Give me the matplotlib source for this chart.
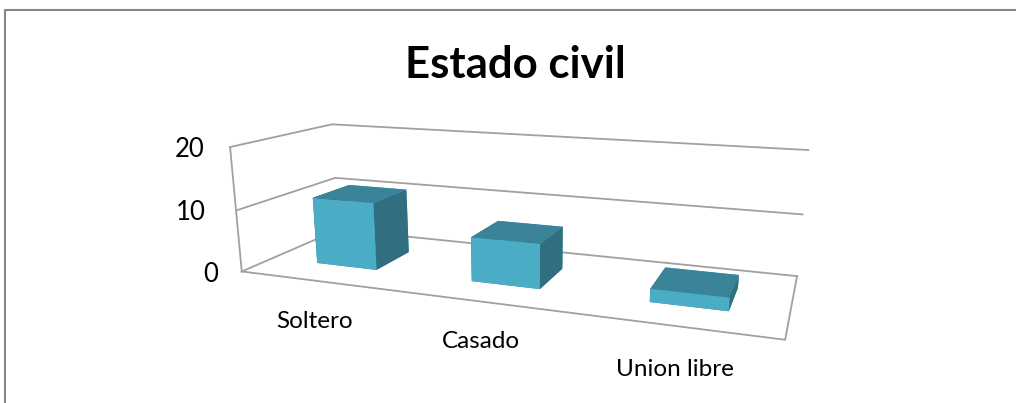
import numpy as np
import matplotlib
matplotlib.use("Agg")
import matplotlib.pyplot as plt

# Data
categories = ["Soltero", "Casado", "Union libre"]
values = [11, 7, 2]
z_ticks = [0, 10, 20]

W, H = 1016, 403
plt.rcParams['font.family'] = ['Lato', 'DejaVu Sans']

# Excel style 3D box: x 0..3 categories, y 0..1 depth, z 0..20
# pixel positions of the box corners, used to calibrate the camera
calib = [
    (0, 0, 0, 242, 271.5), (3, 0, 0, 785, 340), (3, 1, 0, 797, 275.7), (0, 1, 0, 338, 230),
    (0, 0, 10, 236, 210), (0, 0, 20, 230, 147.3), (0, 1, 10, 335.7, 177.7), (0, 1, 20, 331.7, 124.3),
    (3, 1, 10, 802.7, 214.7), (3, 1, 20, 808.3, 150),
]

fig = plt.figure(figsize=(W / 100, H / 100), dpi=100)
ax = fig.add_axes([0, 0, 1, 1], projection='3d')
ax.set_axis_off()
ax.set_proj_type('ortho')  # no depth clipping of lines, the matrix comes from get_proj below
ax.set_xlim(0, 3)
ax.set_ylim(0, 1)
ax.set_zlim(0, 20)
ax.apply_aspect = lambda position=None: None  # keep the axes over the whole figure


def get_proj():
    # fit a 3x4 camera matrix (DLT) from the corners above
    pix = np.array([[c[3], H - c[4]] for c in calib])
    uv = ax.transData.inverted().transform(pix)
    rows = []
    for c, (u, v) in zip(calib, uv):
        X = [c[0], c[1], c[2], 1]
        rows.append(X + [0, 0, 0, 0] + [-u * a for a in X])
        rows.append([0, 0, 0, 0] + X + [-v * a for a in X])
    P = np.linalg.svd(np.array(rows, float))[2][-1].reshape(3, 4)
    if P[2, 3] < 0:
        P = -P
    # third row is only the painter's depth
    depth = np.array([-0.3, 1.0, -0.05, 0.0]) * P[2, 3] * 0.1
    return np.array([P[0], P[1], depth, P[2]])


ax.get_proj = get_proj

grid_col = '#a0a0a0'
for z in z_ticks:
    ax.plot([0, 0, 3], [0, 1, 1], [z, z, z], color=grid_col, lw=1.3)
ax.plot([0, 3, 3], [0, 0, 1], [0, 0, 0], color=grid_col, lw=1.3)
ax.plot([0, 0], [0, 0], [0, 20], color=grid_col, lw=1.3)

# bars, faces are -z +z -y +y -x +x
front, top, side = '#4bacc6', '#3a8398', '#306e80'
bar_w = 0.40
bar_y0, bar_d = 0.29, 0.39
for i, v in enumerate(values):
    ax.bar3d(i + 0.5 - bar_w / 2 + 0.01, bar_y0, 0, bar_w, bar_d, v, shade=False,
             color=[top, top, front, front, side, side], linewidth=0)

for t, x, y in zip(z_ticks, [211, 191, 190], [275, 212, 149]):
    fig.text(x / W, 1 - y / H, str(t), fontsize=18.5, ha='center', va='center', color='black')
for c, x, y in zip(categories, [315, 481, 675], [321, 342, 370]):
    fig.text(x / W, 1 - y / H, c, fontsize=17.5, ha='center', va='center', color='black')
fig.text(515 / W, 1 - 65 / H, "Estado civil", fontsize=31.5, fontweight='bold', ha='center', va='center', color='black')

# chart frame
fig.add_artist(plt.Line2D([5 / W, 5 / W, 1], [0, 1 - 10 / H, 1 - 10 / H], color='#868686', lw=1.5))

fig.savefig('out.png', dpi=100)
